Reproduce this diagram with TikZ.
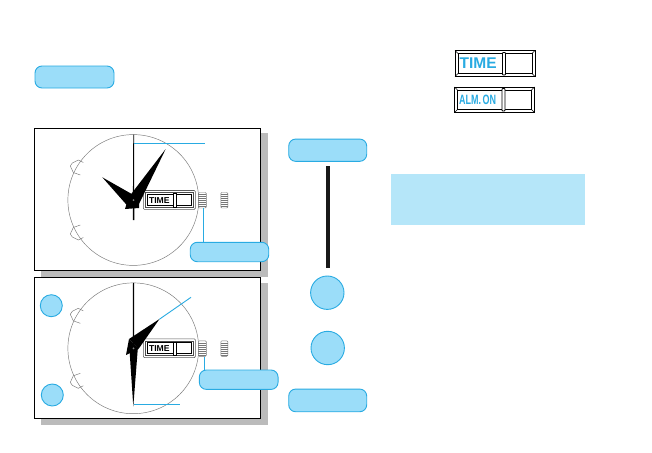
\documentclass[tikz,border=0pt]{standalone}
\usepackage{fontspec}
\setmainfont{Liberation Sans}
\definecolor{cyanline}{HTML}{29ABE2}
\definecolor{cyanfill}{HTML}{9BDDF9}
\definecolor{panelfill}{HTML}{B5E6F9}
\definecolor{shadowgray}{HTML}{BBBBBB}
\definecolor{thingray}{HTML}{777777}
\tikzset{
  pill/.style={draw=cyanline,fill=cyanfill,line width=0.9pt,rounded corners=7pt,minimum width=78pt,minimum height=21pt,inner sep=0pt,outer sep=0pt},
  dot/.style={draw=cyanline,fill=cyanfill,line width=0.9pt,circle,inner sep=0pt,outer sep=0pt},
  panel/.style={draw=black,fill=white,line width=0.9pt},
  shadowbox/.style={fill=shadowgray,draw=none},
  leader/.style={draw=cyanline,line width=0.9pt},
  thin gray/.style={draw=thingray,line width=0.45pt},
  hand/.style={fill=black,draw=none},
  bezel/.style={draw=black!70,line width=0.5pt,fill=white},
  disptext/.style={inner sep=0pt,font=\bfseries}
}
% watch body: arg #1 = centre y, #2 = name prefix
\newcommand{\watchbody}[2]{
  \begin{scope}[shift={(133.3,#1)}]
    \coordinate (#2c) at (0,0);
    \foreach \yy in {-34,35}{
      \begin{scope}[shift={(-58,\yy)},rotate={\yy>0 ? 0 : 0}]
      \end{scope}
    }
    % pushers
    \draw[thin gray,fill=white] (-53,-25) -- (-60,-27.5) -- (-63,-34) -- (-61,-37) -- (-55,-40) -- (-50,-37.5);
    \draw[thin gray,fill=white] (-53,25) -- (-60,27.5) -- (-63,34) -- (-61,37) -- (-55,40) -- (-50,37.5);
    \draw[thin gray] (0,0) circle (65.4);
    % crowns
    \draw[thin gray,fill=white,rounded corners=1pt] (65,-7.5) rectangle (73,8);
    \foreach \k in {-5.5,-3.5,...,6.5} \draw[thin gray] (65,\k) -- (73,\k);
    \draw[thin gray,fill=white,rounded corners=1pt] (87.5,-7.5) rectangle (94.5,8);
    \foreach \k in {-5.5,-3.5,...,6.5} \draw[thin gray] (87.5,\k) -- (94.5,\k);
    % display
    \draw[thin gray,draw=black!65,fill=white,rounded corners=1pt,line width=0.6pt] (10,-9.5) rectangle (62,9.3);
    \draw[black!70,line width=0.5pt] (12,-7.5) rectangle (60,7.3);
    \draw[black,line width=0.8pt] (14.3,-5.5) rectangle (58,5.5);
    \node[disptext,anchor=west,font=\bfseries\fontsize{8.6}{9}\selectfont] (#2t) at (15.5,0.2) {TIME};
    \draw[black,fill=white,line width=0.8pt] (40,-6.3) rectangle (43,7);
  \end{scope}
}
\begin{document}
\begin{tikzpicture}[x=1pt,y=-1pt]
\useasboundingbox (0,0) rectangle (652,452);
\fill[white] (0,0) rectangle (652,452);

% top-left pill
\node[pill,minimum width=79pt,minimum height=22pt] (head) at (74.5,77) {};

% display samples
\node[draw=none,inner sep=0pt,minimum width=80pt,minimum height=26.7pt] (d1) at (495,63.3) {};
\draw[black,line width=0.8pt,fill=white] (455,50.5) -- (535,50.5) -- (535,76.5) -- (455,76.5) -- cycle;
\draw[black,line width=0.7pt] (458,53.5) rectangle (532,73.5);
\draw[black,line width=0.5pt] (455,50.5) -- (458,53.5) (535,50.5) -- (532,53.5) (535,76.5) -- (532,73.5) (455,76.5) -- (458,73.5);
\node[inner sep=0pt,text=cyanline,anchor=west,font=\bfseries\fontsize{15.5}{16}\selectfont] (t1) at (459.5,63.5) {\scalebox{1}[1]{TIME}};
\draw[black,fill=white,line width=0.8pt,rounded corners=0.8pt] (502.5,52.5) rectangle (505.5,75);

\node[draw=none,inner sep=0pt,minimum width=80pt,minimum height=26pt] (d2) at (494.5,99.7) {};
\draw[black,line width=0.8pt,fill=white] (454.5,87) -- (534.5,87) -- (534.5,112.5) -- (454.5,112.5) -- cycle;
\draw[black,line width=0.7pt] (457.5,90) rectangle (531.5,109.5);
\draw[black,line width=0.5pt] (454.5,87) -- (457.5,90) (534.5,87) -- (531.5,90) (534.5,112.5) -- (531.5,109.5) (454.5,112.5) -- (457.5,109.5);
\node[inner sep=0pt,text=cyanline,anchor=west,font=\bfseries\fontsize{12.5}{13}\selectfont] (t2) at (459,100) {\scalebox{0.72}[1.08]{ALM.\,ON}};
\draw[black,fill=white,line width=0.8pt,rounded corners=0.8pt] (502,88.5) rectangle (505,111);

% shadows and panels
\node[shadowbox,minimum width=227pt,minimum height=144pt,inner sep=0pt,anchor=north west] (s1) at (41,133) {};
\node[shadowbox,minimum width=227pt,minimum height=142pt,inner sep=0pt,anchor=north west] (s2) at (41,283) {};
\node[panel,minimum width=226.4pt,minimum height=142pt,inner sep=0pt,outer sep=0pt,anchor=north west] (p1) at (34.3,128.3) {};
\node[panel,minimum width=226.4pt,minimum height=141pt,inner sep=0pt,outer sep=0pt,anchor=north west] (p2) at (34.3,277.3) {};

% watch 1
\watchbody{200}{a}
\fill[hand] (133.3,134.5) -- (134,134.5) -- (134.3,220) -- (132.8,220) -- cycle;
\fill[hand] (165.7,149) -- (139,204) -- (128.5,197.5) -- cycle;
\fill[hand] (102.3,177.3) -- (137,197) -- (128.5,207) -- cycle;
\fill[hand] (128.5,197.5) -- (125,209) -- (139,208) -- (139,200) -- cycle;
\fill[black!50] (133.5,200) circle (1);
\coordinate (m1) at (133.6,143.3);
\coordinate (r1) at (205,143.3);
\coordinate (k1) at (203.3,208);
\node[pill,minimum width=78.5pt,minimum height=19.4pt] (c1) at (229.5,252) {};
\draw[leader] (m1) -- (r1);
\draw[leader] (k1) -- (k1 |- c1.north);

% watch 2
\watchbody{348.3}{b}
\fill[hand] (133,282.8) -- (134,282.8) -- (134.2,350) -- (132.8,350) -- cycle;
\fill[hand] (159.5,319) -- (138.5,349) -- (129,339) -- cycle;
\fill[hand] (129,339) -- (126,355) -- (129,353.5) -- (138.5,349) -- cycle;
\fill[hand] (133.3,406.5) -- (129.5,350) -- (138,346) -- cycle;
\fill[black!50] (133.5,348.3) circle (1);
\coordinate (m2) at (159.3,319.3);
\coordinate (r2) at (191,297.3);
\coordinate (h2) at (133.6,404.7);
\coordinate (e2) at (180,404.7);
\coordinate (k2) at (204.3,356.7);
\node[pill,minimum width=78.7pt,minimum height=19.4pt] (c2) at (238.7,379.7) {};
\draw[leader] (m2) -- (r2);
\draw[leader] (h2) -- (e2);
\draw[leader] (k2) -- (k2 |- c2.north);
\node[dot,minimum size=22pt] (b1) at (51.3,305.7) {};
\node[dot,minimum size=22pt] (b2) at (52.3,395) {};

% right column
\node[pill,minimum height=22.3pt] (s) at (327.7,150.2) {};
\node[pill,minimum height=22.7pt] (f) at (327.7,400.4) {};
\node[dot,minimum size=33.4pt] (o1) at (327.3,292.7) {};
\node[dot,minimum size=33.4pt] (o2) at (327.7,348) {};
\coordinate (bart) at (328,166);
\coordinate (barb) at (328,267.7);
\draw[black!90,line width=4pt] (bart) -- (barb);

% note box
\node[fill=panelfill,draw=none,minimum width=194pt,minimum height=51pt,inner sep=0pt,anchor=north west] (note) at (391,174) {};
\end{tikzpicture}
\end{document}
